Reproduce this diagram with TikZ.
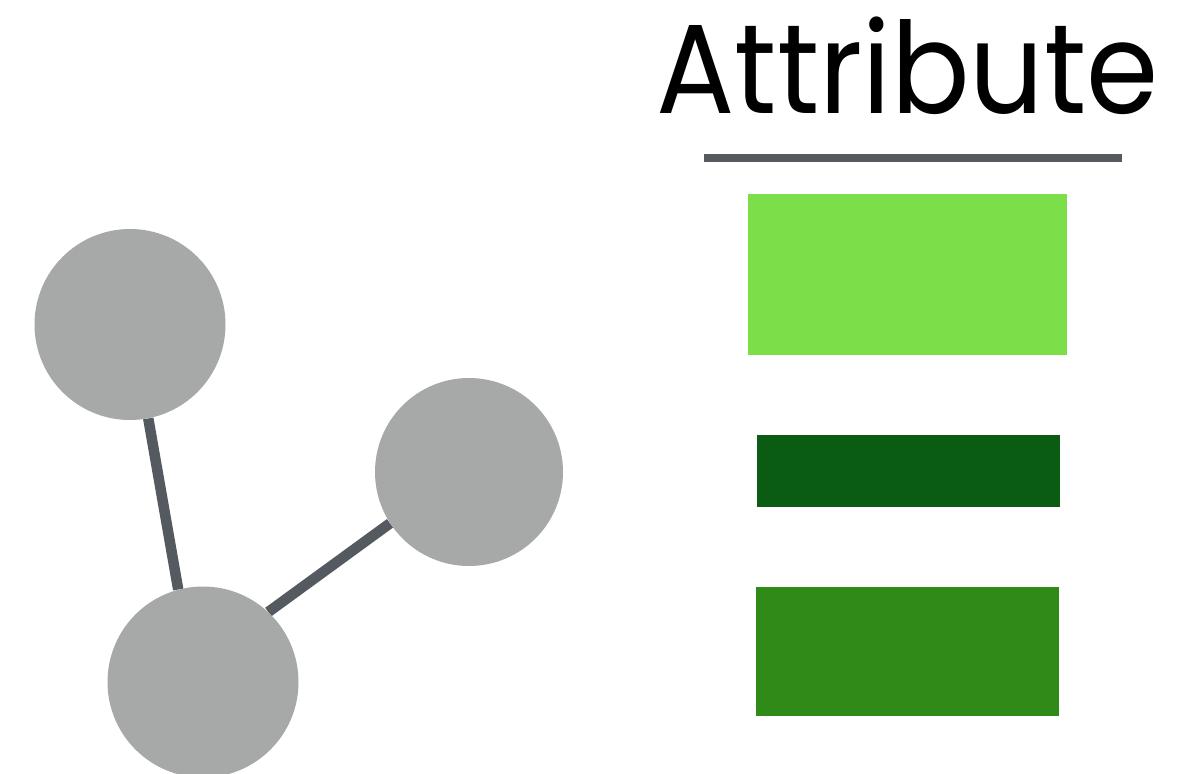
\documentclass[tikz,border=0pt]{standalone}
\usepackage{fontspec}
\setmainfont{Poppins}
\usetikzlibrary{backgrounds}
\definecolor{nodegray}{HTML}{A6A9A7}
\definecolor{edgegray}{HTML}{555A60}
\definecolor{lightgreen}{HTML}{7CDE48}
\definecolor{darkgreen}{HTML}{0B5C13}
\definecolor{midgreen}{HTML}{308A17}
\tikzset{
  vertex/.style={circle, fill=nodegray, draw=none, inner sep=0pt},
  edge/.style={draw=edgegray, line width=10.5pt},
  bar/.style={rectangle, draw=none, inner sep=0pt},
  rule/.style={draw=edgegray, line width=8pt},
}
\begin{document}
\begin{tikzpicture}[x=1pt,y=-1pt]
\useasboundingbox (0,0) rectangle (1184,774);
% graph
\node[vertex, minimum size=191pt] (A) at (130,324.5) {};
\node[vertex, minimum size=188pt] (B) at (469,472) {};
\node[vertex, minimum size=191pt] (C) at (203,682) {};
\begin{scope}[on background layer]
\fill[white] (0,0) rectangle (1184,774);
\draw[edge] (A.-79) -- (C.105);
\draw[edge] (C.47) -- (B.-147);
\end{scope}
% title
\node[anchor=base, inner sep=0pt] (title) at (907.5,113) {\scalebox{0.915}[1]{\fontsize{127}{127}\selectfont Attribute}};
\draw[rule] (704,158) -- (1122,158);
% bars
\node[bar, fill=lightgreen, minimum width=319pt, minimum height=160.5pt] (r1) at (907.5,274.5) {};
\node[bar, fill=darkgreen, minimum width=303pt, minimum height=72pt] (r2) at (908.5,471) {};
\node[bar, fill=midgreen, minimum width=303pt, minimum height=129pt] (r3) at (907.5,651.5) {};
\end{tikzpicture}
\end{document}
